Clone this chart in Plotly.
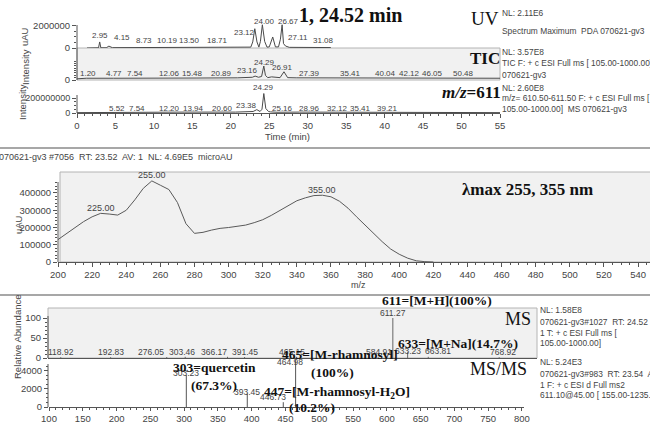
import plotly.graph_objects as go

W, H = 650, 425

# ---------------- DATA ----------------
# UV chromatogram (min, uAU)
uv_time = [1.3, 2.8, 2.95, 3.1, 3.8, 4.15, 4.6, 8.73, 10.19, 13.5, 18.71, 22.6, 22.85, 23.12, 23.4,
           23.65, 23.85, 24.1, 24.4, 24.7, 25.0, 25.45, 25.8, 26.2, 26.45, 26.67, 26.85, 27.11,
           27.6, 31.08, 33.0]
uv_signal = [0, 20000, 550000, 20000, 20000, 170000, 30000, 40000, 40000, 40000, 60000, 80000, 550000,
             1750000, 550000, 80000, 600000, 2110000, 600000, 80000, 100000, 1000000, 100000,
             100000, 800000, 2110000, 400000, 180000, 60000, 40000, 40000]
uv_peaks = [2.95, 4.15, 8.73, 10.19, 13.50, 18.71, 23.12, 24.00, 26.67, 27.11, 31.08]

# TIC chromatogram (min, counts)
tic_time = [0, 1.2, 4.77, 7.54, 12.06, 15.48, 20.89, 22.8, 23.16, 23.6, 24.0, 24.29, 24.5, 24.8, 25.3,
            26.4, 26.91, 27.3, 27.39, 28.5, 35.41, 40.04, 42.12, 46.05, 50.48, 55]
tic_signal = [0.3e8, 0.45e8, 0.45e8, 0.5e8, 0.45e8, 0.5e8, 0.55e8, 0.7e8, 1.0e8, 0.7e8, 0.9e8, 3.57e8,
              1.2e8, 0.6e8, 0.8e8, 0.6e8, 2.1e8, 0.8e8, 0.6e8, 0.55e8, 0.5e8, 0.55e8, 0.5e8, 0.55e8,
              0.5e8, 0.45e8]
tic_peaks = [1.20, 4.77, 7.54, 12.06, 15.48, 20.89, 23.16, 24.29, 26.91, 27.39, 35.41, 40.04, 42.12,
             46.05, 50.48]

# m/z 611 extracted ion chromatogram
xic_time = [0, 5.52, 7.54, 12.2, 13.94, 20.6, 22.9, 23.38, 23.8, 24.05, 24.29, 24.55, 24.9, 25.16, 26,
            28.96, 32.12, 35.41, 39.21, 45, 55]
xic_signal = [0.05e8, 0.1e8, 0.12e8, 0.1e8, 0.12e8, 0.12e8, 0.2e8, 0.45e8, 0.2e8, 0.5e8, 2.6e8, 0.6e8,
              0.2e8, 0.15e8, 0.1e8, 0.12e8, 0.1e8, 0.12e8, 0.1e8, 0.05e8, 0.05e8]
xic_peaks = [5.52, 7.54, 12.20, 13.94, 20.60, 23.38, 24.29, 25.16, 28.96, 32.12, 35.41, 39.21]

# UV spectrum (nm, uAU)
spec_wl = [200, 205, 210, 215, 220, 225, 230, 235, 240, 245, 250, 255, 260, 265, 270, 275, 280, 285,
           290, 295, 300, 305, 310, 315, 320, 325, 330, 335, 340, 345, 350, 355, 360, 365, 370, 375,
           380, 385, 390, 395, 400, 405, 410, 415, 420]
spec_uau = [130000, 165000, 200000, 234000, 262000, 282000, 278000, 272000, 300000, 360000, 427000,
            470000, 445000, 420000, 345000, 222000, 166000, 172000, 185000, 195000, 200000, 207000,
            214000, 228000, 245000, 270000, 300000, 330000, 355000, 372000, 385000, 387000, 378000,
            352000, 312000, 262000, 212000, 165000, 118000, 75000, 45000, 22000, 7000, 2000, 0]
spec_peaks = [225, 255, 355]

# MS full scan (m/z, relative abundance %)
ms_mz = [118.92, 192.83, 276.05, 303.46, 366.17, 391.45, 465.15, 584.91, 611.27, 633.23, 663.81, 768.92]
ms_rel = [2.0, 2.0, 2.5, 3.0, 3.0, 2.5, 4.0, 3.0, 100.0, 14.7, 3.0, 2.0]

# MS/MS of 611 (m/z, intensity)
msms_mz = [303.23, 393.45, 446.73, 464.98]
msms_int = [3527, 1500, 534, 5240]

# ---------------- helpers ----------------
def px(x):
    return x / W

def py(y):
    return 1 - y / H

SANS = "Liberation Sans, Arial, sans-serif"
SERIF = "Liberation Serif, Times New Roman, serif"
TXT = "#444444"
AX = "#555555"

def sticks(xs, ys):
    X, Y = [], []
    for a, b in zip(xs, ys):
        X += [a, a, None]
        Y += [0, b, None]
    return X, Y

fig = go.Figure()
line_style = dict(color="#4a4a4a", width=1)

fig.add_trace(go.Scatter(x=uv_time, y=uv_signal, xaxis="x2", yaxis="y2", mode="lines",
                         line=line_style, hoverinfo="skip"))
fig.add_trace(go.Scatter(x=tic_time, y=tic_signal, xaxis="x3", yaxis="y3", mode="lines",
                         line=line_style, hoverinfo="skip"))
fig.add_trace(go.Scatter(x=xic_time, y=xic_signal, xaxis="x", yaxis="y", mode="lines",
                         line=line_style, hoverinfo="skip"))
fig.add_trace(go.Scatter(x=spec_wl, y=spec_uau, xaxis="x4", yaxis="y4", mode="lines",
                         line=dict(color="#5a5a5a", width=1), hoverinfo="skip"))
sx, sy = sticks(ms_mz, ms_rel)
fig.add_trace(go.Scatter(x=sx, y=sy, xaxis="x5", yaxis="y5", mode="lines",
                         line=dict(color="#666666", width=1), hoverinfo="skip"))
sx, sy = sticks(msms_mz, msms_int)
fig.add_trace(go.Scatter(x=sx, y=sy, xaxis="x6", yaxis="y6", mode="lines",
                         line=dict(color="#555555", width=1), hoverinfo="skip"))

tickfont = dict(family=SANS, size=9.5, color=TXT)

def xax(dom, rng, anchor, tickvals=None, minor_dtick=None, visible=True, ticks=True, ticklen=4):
    d = dict(domain=[px(dom[0]), px(dom[1])], range=rng, anchor=anchor, showgrid=False,
             zeroline=False, showline=visible, linecolor=AX, linewidth=1, tickfont=tickfont,
             fixedrange=True, visible=visible, automargin=False)
    if ticks and tickvals is not None:
        d.update(tickmode="array", tickvals=tickvals, ticks="outside", ticklen=ticklen,
                 tickcolor=AX,
                 minor=dict(dtick=minor_dtick, ticks="outside", ticklen=2, tickcolor=AX))
    else:
        d.update(showticklabels=False, ticks="")
    return d

def yax(dom, rng, anchor, tickvals, ticktext, minorvals, fsize=9.5):
    return dict(domain=[py(dom[0]), py(dom[1])], range=rng, anchor=anchor, showgrid=False,
                zeroline=False, showline=False, tickmode="array", tickvals=tickvals,
                ticktext=ticktext, ticks="outside", ticklen=4, tickcolor=AX,
                tickfont=dict(family=SANS, size=fsize, color=TXT),
                minor=dict(tickmode="array", tickvals=minorvals, ticks="outside", ticklen=2,
                           tickcolor=AX),
                fixedrange=True, automargin=False)

layout = dict(
    width=W, height=H, margin=dict(l=0, r=0, t=0, b=0, pad=0), showlegend=False,
    paper_bgcolor="white", plot_bgcolor="rgba(0,0,0,0)",
    xaxis=xax((77, 500), [0, 55], "y", list(range(0, 56, 5)), 1),
    yaxis=yax((113, 81), [0, 4.27e8], "x", [0, 2e8], ["0", "200000000"],
              [0.5e8, 1e8, 1.5e8], fsize=9),
    xaxis2=xax((77, 500), [0, 55], "y2", visible=False),
    yaxis2=yax((48, 0), [0, 4.36e6], "x2", [0, 2e6], ["0", "2000000"], [0.5e6, 1e6, 1.5e6]),
    xaxis3=xax((77, 500), [0, 55], "y3", visible=False),
    yaxis3=yax((80, 48), [0, 8.16e8], "x3", [0], ["0"],
               [0.6e8, 1.2e8, 1.8e8, 2.4e8, 3.0e8, 3.6e8, 4.2e8, 4.8e8]),
    xaxis4=xax((58, 650), [200, 547], "y4", list(range(200, 541, 20)), 5),
    yaxis4=yax((262, 172), [0, 521700], "x4", [0, 100000, 200000, 300000, 400000],
               ["0", "100000", "200000", "300000", "400000"],
               [v for v in range(20000, 460001, 20000) if v % 100000]),
    xaxis5=xax((48, 537), [100, 825], "y5", ticks=False),
    yaxis5=yax((358, 308), [0, 125], "x5", [0, 50, 100], ["0", "50", "100"],
               [v for v in range(10, 101, 10) if v % 50]),
    xaxis6=xax((49, 524), [100, 803], "y6", list(range(100, 801, 50)), 10, ticklen=3),
    yaxis6=yax((407, 358), [0, 5440], "x6", [0, 2000, 4000], ["0", "2000", "4000"],
               [500, 1000, 1500, 2500, 3000, 3500, 4500]),
)
fig.update_layout(**layout)

shapes = []
def rect(x0, y0, x1, y1):
    shapes.append(dict(type="rect", xref="paper", yref="paper", x0=px(x0), x1=px(x1),
                       y0=py(y1), y1=py(y0), fillcolor="#f1f1f1",
                       line=dict(color="#b4b4b4", width=1), layer="below"))
def hline(x0, x1, y, color="#8a8a8a", w=1.5):
    shapes.append(dict(type="line", xref="paper", yref="paper", x0=px(x0), x1=px(x1),
                       y0=py(y), y1=py(y), line=dict(color=color, width=w)))
def vline(x, y0, y1, color=AX, w=1):
    shapes.append(dict(type="line", xref="paper", yref="paper", x0=px(x), x1=px(x),
                       y0=py(y0), y1=py(y1), line=dict(color=color, width=w)))

rect(77, 48, 500, 80)
rect(60, 172, 652, 262)
rect(48, 308, 537, 358)
hline(0, 650, 148)
hline(0, 650, 295)
vline(77, 48, 25)
vline(77, 80, 48)
vline(77, 113, 95)
vline(58, 262, 182)
vline(48, 358, 316)
vline(48, 407, 364)
fig.update_layout(shapes=shapes)

anns = []
def T(text, x, y, size=8.4, color=TXT, family=SANS, xanchor="center", angle=0, **kw):
    anns.append(dict(text=text, x=px(x), y=py(y), xref="paper", yref="paper", showarrow=False,
                     xanchor=xanchor, yanchor="middle", textangle=angle,
                     font=dict(family=family, size=size, color=color), **kw))

def peak_label(val, xref, ypix, shift=0, size=8):
    anns.append(dict(text=f"{val:.2f}", x=val, xref=xref,
                     y=py(ypix), yref="paper", xshift=shift, showarrow=False,
                     xanchor="center", yanchor="middle",
                     font=dict(family=SANS, size=size, color=TXT)))

# top chromatogram labels
uv_y = [35, 38, 41, 41, 41, 41, 32, 21, 21, 38, 41]
uv_s = [0, 13, 0, 12, 9, -3, -10, 3, 6, 12, 7]
for t, yy, s in zip(uv_peaks, uv_y, uv_s):
    peak_label(t, "x2", yy, s)
tic_y = [74, 74, 74, 74, 74, 74, 71, 62, 67, 74, 74, 74, 74, 74, 74]
tic_s = [2, 0, 0, 0, -4, -16, -8, 1, -1, 22, 1, 1, 9, 1, -2]
for t, yy, s in zip(tic_peaks, tic_y, tic_s):
    peak_label(t, "x3", yy, s)
xic_y = [108, 108, 108, 108, 108, 106, 87, 108, 108, 108, 108, 108]
xic_s = [-2, 2, -1, 9, -13, -10, 0, 12, 10, 13, 11, 9]
for t, yy, s in zip(xic_peaks, xic_y, xic_s):
    peak_label(t, "x", yy, s)

T("Time (min)", 287, 137, size=9.5)
T("uAU", 25, 37, size=9.5, angle=-90)
T("Intensity", 25, 67, size=9.5, angle=-90)
T("Intensity", 22, 102, size=9.5, angle=-90)
T("<b>1, 24.52 min</b>", 350, 15, size=20, color="#111", family=SERIF)
T("UV", 485, 18, size=19, color="#111", family=SERIF)
T("<b>TIC</b>", 485, 59, size=17, color="#111", family=SERIF)
T("<b><i>m/z</i>=611</b>", 471, 93, size=17, color="#111", family=SERIF)
T("NL: 2.11E6", 500, 13, xanchor="left")
T("Spectrum Maximum  PDA 070621-gv3", 500, 31, xanchor="left")
T("NL: 3.57E8", 500, 52, xanchor="left")
T("TIC F: + c ESI Full ms [ 105.00-1000.00]  MS", 500, 63, xanchor="left")
T("070621-gv3", 500, 75, xanchor="left")
T("NL: 2.60E8", 500, 88, xanchor="left")
T("m/z= 610.50-611.50 F: + c ESI Full ms [", 500, 98, xanchor="left")
T("105.00-1000.00]  MS 070621-gv3", 500, 109, xanchor="left")

# spectrum
T("070621-gv3 #7056  RT: 23.52  AV: 1  NL: 4.69E5  microAU", -3, 157, size=9, xanchor="left")
spec_y = [208, 175, 190]
for wl, yy in zip(spec_peaks, spec_y):
    peak_label(wl, "x4", yy, size=9)
T("m/z", 358, 285, size=9)
T("uAU", 18, 225, size=9.5, angle=-90)
T("<b>λmax 255, 355 nm</b>", 527, 189, size=17, color="#111", family=SERIF)

# MS labels
ms_y = [352, 352, 352, 352, 352, 352, 352, 352, 313, 351, 351, 352]
ms_s = [0, 0, -16, -3, -14, 0, -2, 4, 0, 0, 10, 4]
for m, yy, s in zip(ms_mz, ms_y, ms_s):
    peak_label(m, "x5", yy, s, size=8.5)
msms_y = [373, 392, 397, 362]
msms_s = [0, 0, -10, -6]
for m, yy, s in zip(msms_mz, msms_y, msms_s):
    peak_label(m, "x6", yy, s, size=8.5)

T("Relative Abundance", 17, 337, size=9.5, angle=-90)
T("NL: 1.58E8", 538, 310, xanchor="left")
T("070621-gv3#1027  RT: 24.52  AV: 1", 538, 322, xanchor="left")
T("1 T: + c ESI Full ms [", 538, 333, xanchor="left")
T("105.00-1000.00]", 538, 343, xanchor="left")
T("NL: 5.24E3", 538, 362, xanchor="left")
T("070621-gv3#983  RT: 23.54  AV: 1", 538, 374, xanchor="left")
T("1 F: + c ESI d Full ms2", 538, 385, xanchor="left")
T("611.10@45.00 [ 155.00-1235.00]", 538, 395, xanchor="left")

B = dict(size=13.5, color="#111", family=SERIF)
T("MS", 518, 319, size=18, color="#111", family=SERIF)
T("MS/MS", 498, 369, size=18, color="#111", family=SERIF)
T("<b>611=[M+H](100%)</b>", 437, 300, **B)
T("<b>633=[M+Na](14.7%)</b>", 458, 343, **B)
T("<b>465=[M-rhamnosyl]</b>", 340, 354, **B)
T("<b>(100%)</b>", 332, 372, **B)
T("<b>303=quercetin</b>", 214, 367, **B)
T("<b>(67.3%)</b>", 214, 385, **B)
T("<b>447=[M-rhamnosyl-H<sub>2</sub>O]</b>", 337, 392, **B)
T("<b>(10.2%)</b>", 312, 407, **B)

fig.update_layout(annotations=anns)
fig.write_html("out.html", config={"displayModeBar": False},
               post_script="document.body.style.margin='0px';document.body.style.overflow='hidden';")
